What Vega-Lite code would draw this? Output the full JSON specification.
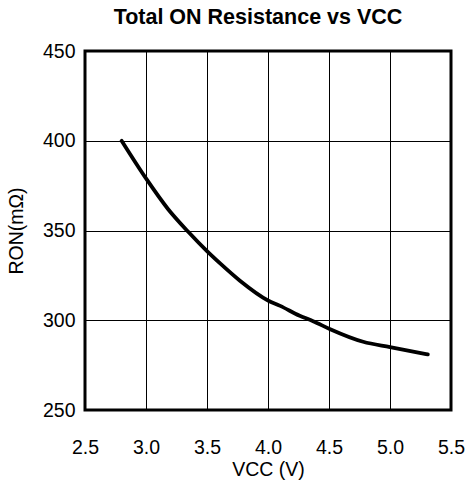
{
  "$schema": "https://vega.github.io/schema/vega-lite/v6.json",
  "autosize": "none",
  "padding": {"left": 85, "top": 51, "right": 15, "bottom": 72},
  "width": 366,
  "height": 359,
  "background": "white",
  "title": {"text": "Total ON Resistance vs VCC", "font": "Liberation Sans", "fontSize": 21.5, "fontWeight": "bold", "color": "black", "offset": 13, "dx": -10},
  "config": {
    "view": {"stroke": "black", "strokeWidth": 3},
    "axis": {"labelFont": "Liberation Sans", "titleFont": "Liberation Sans", "labelColor": "black", "titleColor": "black", "titleFontWeight": "normal", "gridColor": "black", "gridOpacity": 1, "gridWidth": 1, "domain": false, "ticks": false}
  },
  "data": {"values": [
    {"vcc": 2.80, "ron": 400},
    {"vcc": 3.00, "ron": 379},
    {"vcc": 3.18, "ron": 362},
    {"vcc": 3.35, "ron": 349},
    {"vcc": 3.50, "ron": 338.5},
    {"vcc": 3.61, "ron": 331.5},
    {"vcc": 3.77, "ron": 322},
    {"vcc": 4.00, "ron": 311},
    {"vcc": 4.10, "ron": 308},
    {"vcc": 4.26, "ron": 302.5},
    {"vcc": 4.37, "ron": 299.5},
    {"vcc": 4.51, "ron": 295},
    {"vcc": 4.78, "ron": 288},
    {"vcc": 5.00, "ron": 285},
    {"vcc": 5.31, "ron": 281}
  ]},
  "mark": {"type": "line", "color": "black", "strokeWidth": 3.8, "interpolate": "monotone", "strokeCap": "round"},
  "encoding": {
    "x": {"field": "vcc", "type": "quantitative", "scale": {"domain": [2.5, 5.5], "nice": false, "zero": false},
      "axis": {"title": "VCC (V)", "values": [2.5, 3.0, 3.5, 4.0, 4.5, 5.0, 5.5], "format": ".1f", "labelFontSize": 19.5, "titleFontSize": 19.5, "labelPadding": 28, "titlePadding": 4, "labelFlush": false}},
    "y": {"field": "ron", "type": "quantitative", "scale": {"domain": [250, 450], "nice": false, "zero": false},
      "axis": {"title": "RON(mΩ)", "values": [250, 300, 350, 400, 450], "labelFontSize": 19.5, "titleFontSize": 19.5, "labelPadding": 10, "titlePadding": 16, "labelFlush": false}}
  }
}
